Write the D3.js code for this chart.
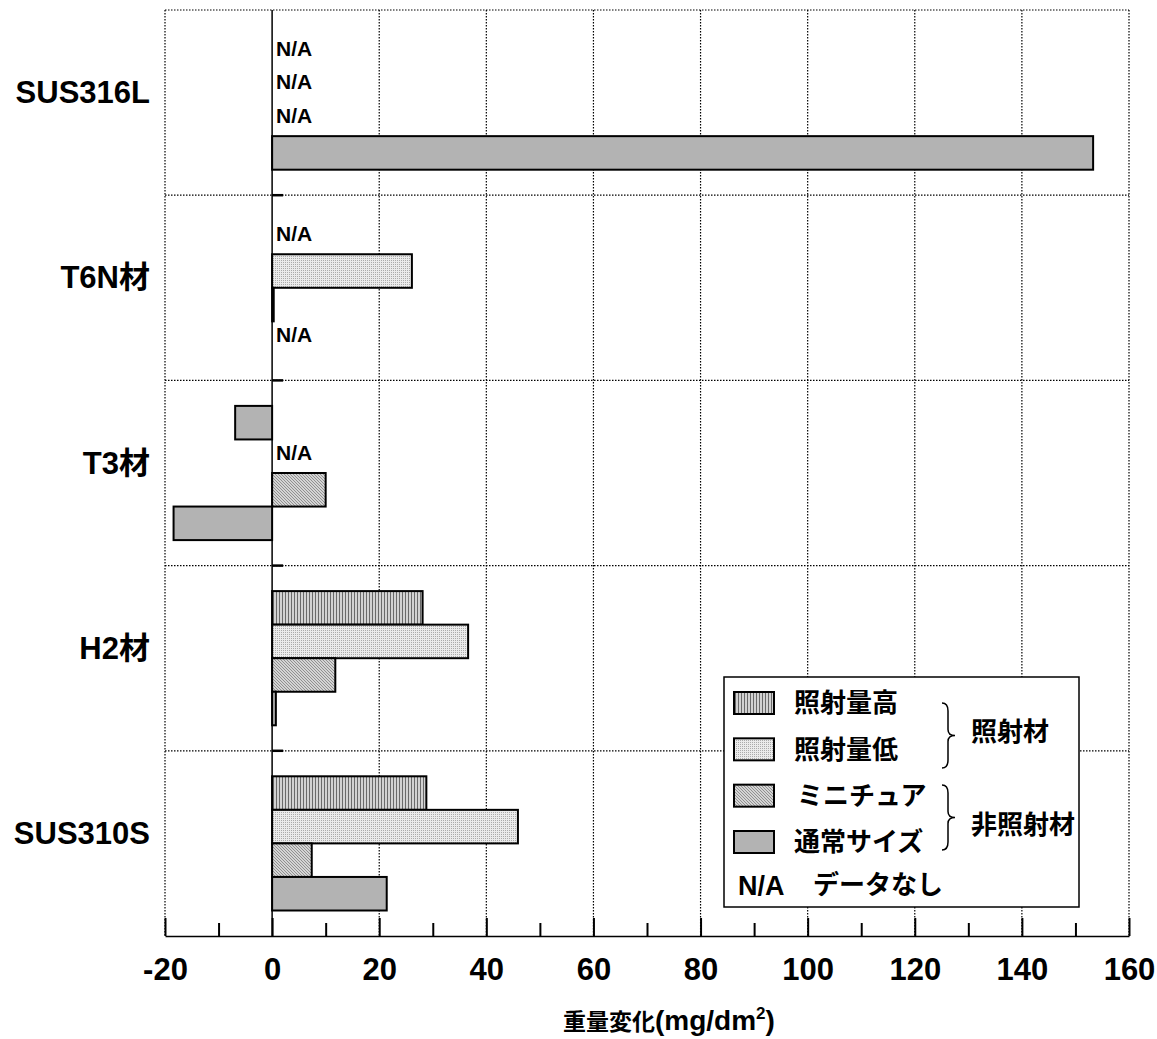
<!DOCTYPE html>
<html>
<head>
<meta charset="utf-8">
<script src="https://cdn.jsdelivr.net/npm/d3@7"></script>
<style>
  body { margin: 0; background: #fff; }
  text { font-family: "Liberation Sans", Arial, "Noto Sans CJK JP", sans-serif; font-weight: bold; }
</style>
</head>
<body>
<svg id="chart" width="1157" height="1039"></svg>
<script>
const categories = ["SUS316L", "T6N材", "T3材", "H2材", "SUS310S"];
const seriesKeys = ["high", "low", "mini", "normal"];
const seriesNames = ["照射量高", "照射量低", "ミニチュア", "通常サイズ"];

// null = N/A (no data)
const irradHigh = [null, null, -6.9, 28.1, 28.8];
const irradLow = [null, 26.1, null, 36.6, 45.9];
const miniature = [null, 0.3, 10.0, 11.8, 7.4];
const normalSize = [153.3, null, -18.4, 0.7, 21.4];

const majorTicks = [-20, 0, 20, 40, 60, 80, 100, 120, 140, 160];
const minorTicks = [-10, 10, 30, 50, 70, 90, 110, 130, 150];

// T3 high-dose bar is drawn with plain grey fill in the original
const solidBars = [["T3材", "high"]];

const seriesValues = { high: irradHigh, low: irradLow, mini: miniature, normal: normalSize };

const margin = { top: 10, right: 28, bottom: 103, left: 165 };
const width = 1157 - margin.left - margin.right;
const height = 1039 - margin.top - margin.bottom;

const svg = d3.select("#chart");

// patterns
const defs = svg.append("defs");
const pHigh = defs.append("pattern").attr("id", "p-high").attr("patternUnits", "userSpaceOnUse")
  .attr("width", 3).attr("height", 3);
pHigh.append("rect").attr("width", 3).attr("height", 3).attr("fill", "#d2d2d2");
pHigh.append("rect").attr("width", 1).attr("height", 3).attr("fill", "#6a6a6a");

const pLow = defs.append("pattern").attr("id", "p-low").attr("patternUnits", "userSpaceOnUse")
  .attr("width", 2).attr("height", 2);
pLow.append("rect").attr("width", 2).attr("height", 2).attr("fill", "#ebebeb");
pLow.append("rect").attr("width", 1).attr("height", 1).attr("fill", "#ababab");

const pMini = defs.append("pattern").attr("id", "p-mini").attr("patternUnits", "userSpaceOnUse")
  .attr("width", 3).attr("height", 3);
pMini.append("rect").attr("width", 3).attr("height", 3).attr("fill", "#d4d4d4");
[0, 1, 2].forEach(i => pMini.append("rect").attr("x", i).attr("y", i).attr("width", 1).attr("height", 1).attr("fill", "#909090"));

const fills = { high: "url(#p-high)", low: "url(#p-low)", mini: "url(#p-mini)", normal: "#b3b3b3" };

const g = svg.append("g").attr("transform", `translate(${margin.left},${margin.top})`);

const x = d3.scaleLinear().domain([-20, 160]).range([0, width]);
const y = d3.scaleBand().domain(categories).range([0, height]);
const inner = d3.scaleBand().domain(seriesKeys).range([0, y.bandwidth()]).paddingInner(0).paddingOuter(0.76);

// dotted grid
const dotted = "1.5,1.5";
g.selectAll(".vgrid").data(majorTicks.filter(d => d !== 0)).enter().append("line")
  .attr("x1", d => x(d)).attr("x2", d => x(d)).attr("y1", 0).attr("y2", height)
  .attr("stroke", "#000").attr("stroke-width", 1.2).attr("stroke-dasharray", dotted);
g.selectAll(".hgrid").data(categories).enter().append("line")
  .attr("x1", 0).attr("x2", width).attr("y1", d => y(d)).attr("y2", d => y(d))
  .attr("stroke", "#000").attr("stroke-width", 1.2).attr("stroke-dasharray", dotted);

// zero line with ticks at category boundaries
g.append("line").attr("x1", x(0)).attr("x2", x(0)).attr("y1", 0).attr("y2", height)
  .attr("stroke", "#000").attr("stroke-width", 1.5);
g.selectAll(".ytick").data(categories.slice(1)).enter().append("line")
  .attr("x1", x(0)).attr("x2", x(0) + 11).attr("y1", d => y(d)).attr("y2", d => y(d))
  .attr("stroke", "#000").attr("stroke-width", 2.5);

// bars
const barData = [];
const naData = [];
categories.forEach((c, i) => {
  seriesKeys.forEach(k => {
    const v = seriesValues[k][i];
    if (v === null) naData.push({ c, k });
    else barData.push({ c, k, v });
  });
});

g.selectAll(".bar").data(barData).enter().append("rect")
  .attr("x", d => x(Math.min(0, d.v)))
  .attr("y", d => y(d.c) + inner(d.k))
  .attr("width", d => Math.abs(x(d.v) - x(0)))
  .attr("height", inner.bandwidth())
  .attr("fill", d => solidBars.some(s => s[0] === d.c && s[1] === d.k) ? fills.normal : fills[d.k])
  .attr("stroke", "#000").attr("stroke-width", 2);

g.selectAll(".na").data(naData).enter().append("text")
  .attr("x", x(0) + 4)
  .attr("y", d => y(d.c) + inner(d.k) + inner.bandwidth() / 2 - 4)
  .attr("dy", "0.36em")
  .attr("font-size", 21)
  .text("N/A");

// x axis (ticks point inward)
const xAxis = g.append("g").attr("transform", `translate(0,${height})`)
  .call(d3.axisBottom(x).tickValues(majorTicks).tickSizeInner(-18).tickSizeOuter(0)
    .tickPadding(22).tickFormat(d => d));
xAxis.select(".domain").attr("stroke-width", 1.5);
xAxis.selectAll(".tick line").attr("stroke-width", 2);
xAxis.selectAll(".tick text").attr("font-size", 31).attr("fill", "#000")
  .style("font-family", '"Liberation Sans", Arial, sans-serif').style("font-weight", "bold");

const xMinor = g.append("g").attr("transform", `translate(0,${height})`)
  .call(d3.axisBottom(x).tickValues(minorTicks).tickSizeInner(-13).tickSizeOuter(0).tickFormat(""));
xMinor.select(".domain").remove();
xMinor.selectAll(".tick line").attr("stroke-width", 2);

// category labels
const yAxis = g.append("g")
  .call(d3.axisLeft(y).tickSize(0).tickPadding(15));
yAxis.select(".domain").remove();
yAxis.selectAll(".tick text").attr("font-size", 31).attr("fill", "#000").attr("dy", "0.02em")
  .style("font-family", '"Liberation Sans", Arial, "Noto Sans CJK JP", sans-serif').style("font-weight", "bold");

// x axis title
const title = svg.append("text").attr("x", 563).attr("y", 1030);
title.append("tspan").attr("font-size", 23).style("font-family", '"Noto Sans CJK JP", sans-serif').text("重量変化");
title.append("tspan").attr("font-size", 28).text("(mg/dm");
title.append("tspan").attr("font-size", 17).attr("dy", -11).text("2");
title.append("tspan").attr("font-size", 28).attr("dy", 11).text(")");

// legend
const lg = svg.append("g");
lg.append("rect").attr("x", 724).attr("y", 677).attr("width", 355).attr("height", 230)
  .attr("fill", "#fff").attr("stroke", "#000").attr("stroke-width", 1.5);
const rowY = d3.scalePoint().domain(seriesKeys).range([703, 842]);
seriesKeys.forEach((k, i) => {
  lg.append("rect").attr("x", 734).attr("y", rowY(k) - 11).attr("width", 40).attr("height", 22)
    .attr("fill", fills[k]).attr("stroke", "#000").attr("stroke-width", 2);
  lg.append("text").attr("x", k === "mini" ? 797 : 794).attr("y", rowY(k)).attr("dy", "0.36em")
    .attr("font-size", 26).style("font-family", '"Noto Sans CJK JP", sans-serif')
    .text(seriesNames[i]);
});
lg.append("text").attr("x", 738).attr("y", 885).attr("dy", "0.36em").attr("font-size", 27).text("N/A");
lg.append("text").attr("x", 813).attr("y", 885).attr("dy", "0.36em").attr("font-size", 26)
  .style("font-family", '"Noto Sans CJK JP", sans-serif').text("データなし");

function brace(x0, y0, y1) {
  const m = (y0 + y1) / 2, xm = x0 + 6, xt = x0 + 13;
  return `M${x0},${y0} Q${xm},${y0} ${xm},${y0 + 8} L${xm},${m - 6} Q${xm},${m} ${xt},${m} ` +
    `Q${xm},${m} ${xm},${m + 6} L${xm},${y1 - 8} Q${xm},${y1} ${x0},${y1}`;
}
lg.append("path").attr("d", brace(942, 703, 768)).attr("fill", "none").attr("stroke", "#000").attr("stroke-width", 1.5);
lg.append("path").attr("d", brace(942, 785, 850)).attr("fill", "none").attr("stroke", "#000").attr("stroke-width", 1.5);
lg.append("text").attr("x", 971).attr("y", 732).attr("dy", "0.36em").attr("font-size", 26)
  .style("font-family", '"Noto Sans CJK JP", sans-serif').text("照射材");
lg.append("text").attr("x", 971).attr("y", 825).attr("dy", "0.36em").attr("font-size", 26)
  .style("font-family", '"Noto Sans CJK JP", sans-serif').text("非照射材");
</script>
</body>
</html>
